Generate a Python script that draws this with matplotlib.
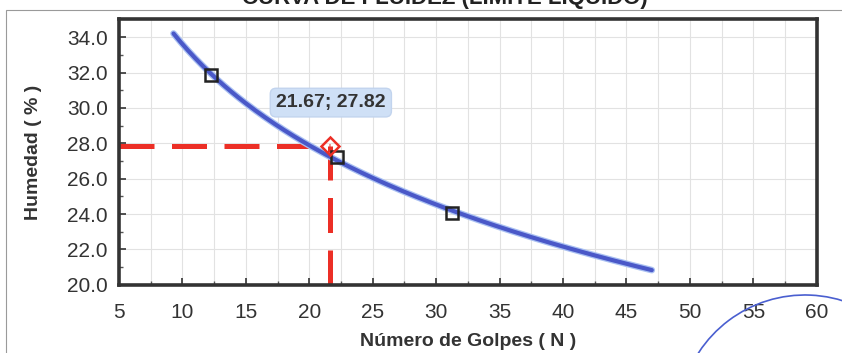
import numpy as np
import matplotlib.pyplot as plt
from matplotlib.patches import Arc, Rectangle

# measured points (golpes, humedad)
golpes = [12.23, 22.2, 31.28]
humedad = [31.86, 27.25, 24.05]

# liquid limit read at 25 golpes
ll_x = 21.67
ll_y = 27.82
ll_label = "21.67; 27.82"

# range of the trend line
trend_start = 9.3
trend_end = 47.0

x_ticks = [5, 10, 15, 20, 25, 30, 35, 40, 45, 50, 55, 60]
y_ticks = [20.0, 22.0, 24.0, 26.0, 28.0, 30.0, 32.0, 34.0]

plt.rcParams['font.family'] = ['Liberation Sans', 'DejaVu Sans']

fig = plt.figure(figsize=(8.42, 3.53), dpi=100)
ax = fig.add_axes([0.1413, 0.193, 0.8287, 0.752])

# logarithmic trend line (as the spreadsheet does)
coef = np.polyfit(np.log(golpes), humedad, 1)
xt = np.linspace(trend_start, trend_end, 200)
yt = coef[0] * np.log(xt) + coef[1]
ax.plot(xt, yt, color="#a9c0f2", lw=4.8, solid_capstyle="round", zorder=3)
ax.plot(xt, yt, color="#4a58c8", lw=3.0, solid_capstyle="round", zorder=3)

ax.plot(golpes, humedad, ls="none", marker="s", ms=9, mfc="none",
        mec="#222222", mew=1.8, zorder=4)

# red dashed guides to the liquid limit
ax.plot([5, ll_x], [ll_y, ll_y], color="#ec2f26", lw=3.6,
        ls=(0, (7, 3.5)), zorder=2)
ax.plot([ll_x, ll_x], [20, ll_y], color="#ec2f26", lw=3.6,
        ls=(0, (7, 3.5)), zorder=2)
ax.plot([ll_x], [ll_y], ls="none", marker="D", ms=9, mfc="none",
        mec="#ec2f26", mew=1.8, zorder=4)

ax.text(21.7, 30.3, ll_label, ha="center", va="center", fontsize=14,
        fontweight="bold", color="#333333", zorder=5,
        bbox=dict(boxstyle="round,pad=0.3", fc="#cfe0f6", ec="#c2d4ee"))

ax.set_xlim(5, 60)
ax.set_ylim(20, 35)
ax.set_xticks(x_ticks)
ax.set_yticks(y_ticks)
ax.set_yticklabels([f"{v:.1f}" for v in y_ticks])
ax.set_xticks(np.arange(7.5, 60, 5), minor=True)
ax.set_yticks(np.arange(21, 35, 2), minor=True)
ax.tick_params(axis="both", which="major", labelsize=15, colors="#333333",
               length=5, width=1.2, direction="in")
ax.tick_params(axis="both", which="minor", length=3, width=1,
               direction="in", color="#555555")
ax.tick_params(axis="x", pad=13)
ax.tick_params(axis="y", pad=8)
ax.grid(True, which="major", color="#e2e2e2", lw=0.8)
ax.grid(True, which="minor", axis="x", color="#e2e2e2", lw=0.8)
ax.set_axisbelow(True)
for sp in ax.spines.values():
    sp.set_color("#333333")
    sp.set_linewidth(2.6)

ax.set_xlabel("Número de Golpes ( N )", fontsize=14, fontweight="bold",
              color="#333333", labelpad=8)
ax.set_ylabel("Humedad ( % )", fontsize=14, fontweight="bold",
              color="#333333", labelpad=18)

# outer chart frame and cut-off title of the scanned sheet
fig.patches.append(Rectangle((6 / 842, -0.02), 1.0, 1 - 10 / 353 + 0.02,
                             transform=fig.transFigure, fill=False,
                             ec="#9a9a9a", lw=0.8))
fig.text(445 / 842, 1 - 4 / 353, "CURVA DE FLUIDEZ (LIMITE LIQUIDO)",
         ha="center", va="baseline", fontsize=16, fontweight="bold",
         color="#222222")

# hand-drawn pen arc on the scan
fig.patches.append(Arc((805 / 842, 1 - 422 / 353), 254 / 842, 254 / 353,
                       theta1=20, theta2=150, transform=fig.transFigure,
                       color="#4a5fd0", lw=1.2))

fig.savefig("out.png", dpi=100, facecolor="white")
